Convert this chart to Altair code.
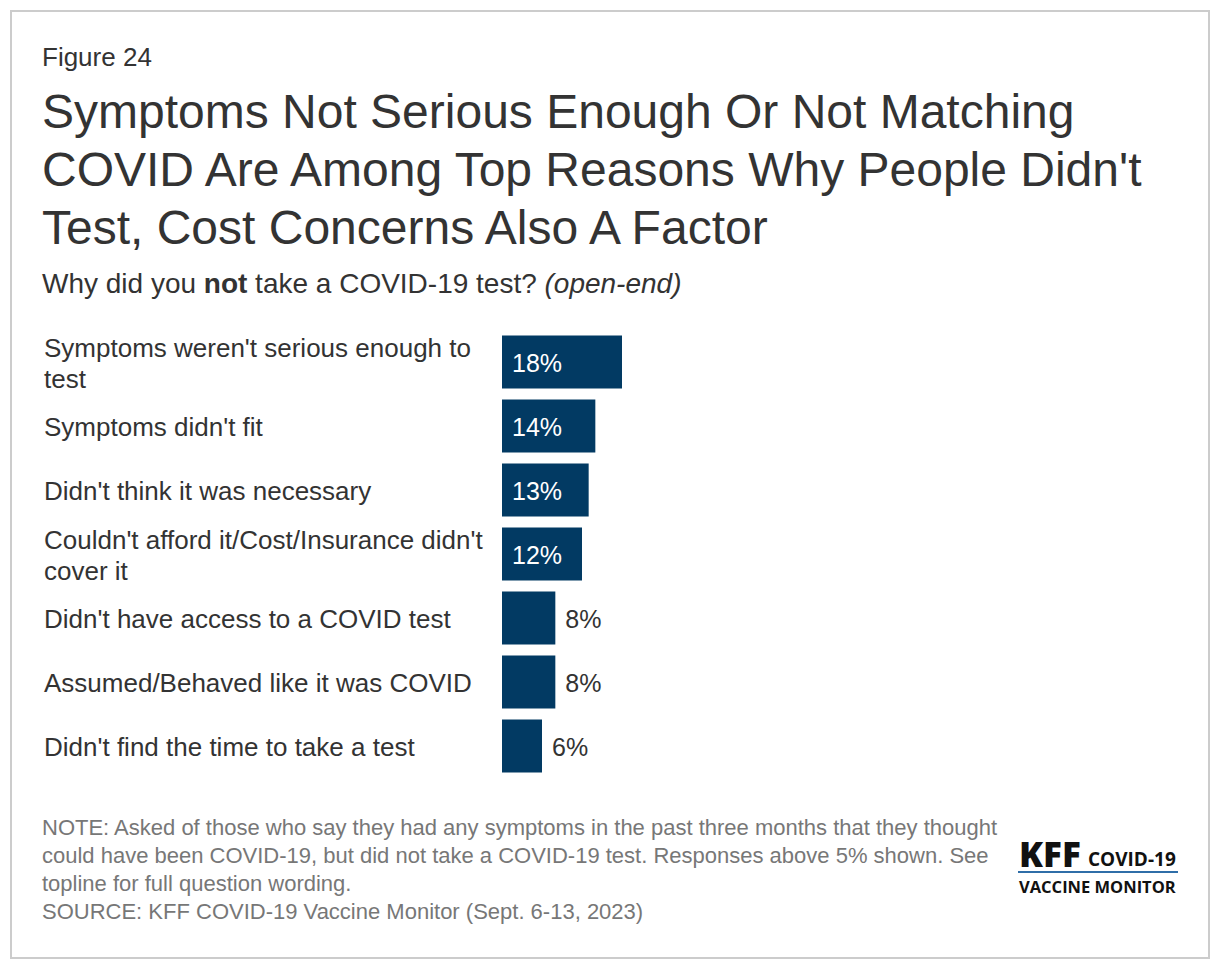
import altair as alt
import pandas as pd

categories = [
    "Symptoms weren't serious enough to\ntest",
    "Symptoms didn't fit",
    "Didn't think it was necessary",
    "Couldn't afford it/Cost/Insurance didn't\ncover it",
    "Didn't have access to a COVID test",
    "Assumed/Behaved like it was COVID",
    "Didn't find the time to take a test",
]
values = [18, 14, 13, 12, 8, 8, 6]
value_labels = ["18%", "14%", "13%", "12%", "8%", "8%", "6%"]

figure_label = "Figure 24"
title_lines = [
    "Symptoms Not Serious Enough Or Not Matching",
    "COVID Are Among Top Reasons Why People Didn't",
    "Test, Cost Concerns Also A Factor",
]
subtitle_parts = ["Why did you", "not", "take a COVID-19 test?", "(open-end)"]
note_lines = [
    "NOTE: Asked of those who say they had any symptoms in the past three months that they thought",
    "could have been COVID-19, but did not take a COVID-19 test. Responses above 5% shown. See",
    "topline for full question wording.",
    "SOURCE: KFF COVID-19 Vaccine Monitor (Sept. 6-13, 2023)",
]

FONT = "Liberation Sans"
BAR = "#023a63"
DARK = "#333333"

df = pd.DataFrame({"cat": categories, "val": values, "lab": value_labels})
df["inside"] = df["val"] >= 10
df["twoline"] = df["cat"].str.contains("\n")

W, H = 600, 448

y_enc = alt.Y("cat:N", sort=None, axis=None,
              scale=alt.Scale(paddingInner=0.17, paddingOuter=0.085))
x_scale = alt.Scale(domain=[0, 90])

base = alt.Chart(df)

bars = base.mark_bar(color=BAR).encode(
    y=y_enc,
    x=alt.X("val:Q", scale=x_scale, axis=None),
)

cat_one = base.transform_filter(~alt.datum.twoline).mark_text(
    align="left", baseline="middle", font=FONT, fontSize=26, color=DARK, dy=1.5,
).encode(y=y_enc, x=alt.value(-458), text="cat:N")

cat_two = base.transform_filter(alt.datum.twoline).mark_text(
    align="left", baseline="middle", font=FONT, fontSize=26, color=DARK,
    lineBreak="\n", lineHeight=31, dy=-13.5,
).encode(y=y_enc, x=alt.value(-458), text="cat:N")

inside_labels = base.transform_filter(alt.datum.inside).mark_text(
    align="left", baseline="middle", font=FONT, fontSize=25, color="white", dx=10, dy=1.5,
).encode(y=y_enc, x=alt.datum(0, scale=x_scale), text="lab:N")

outside_labels = base.transform_filter(~alt.datum.inside).mark_text(
    align="left", baseline="middle", font=FONT, fontSize=25, color=DARK, dx=10, dy=1.5,
).encode(y=y_enc, x=alt.X("val:Q", scale=x_scale), text="lab:N")


def txt(s, x, y, size, color=DARK, weight="normal", style="normal", font=FONT, lh=None):
    kw = dict(align="left", baseline="alphabetic", font=font, fontSize=size,
              color=color, fontWeight=weight, fontStyle=style)
    if lh is not None:
        kw.update(lineBreak="\n", lineHeight=lh)
    return alt.Chart(pd.DataFrame({"t": [s]})).mark_text(**kw).encode(
        text="t:N", x=alt.value(x), y=alt.value(y))


layers = [bars, cat_one, cat_two, inside_labels, outside_labels]

layers.append(txt(figure_label, -460, -264, 26))
for i, line in enumerate(title_lines):
    layers.append(txt(line, -460, -202 + 58 * i, 48))

sub_x = [-460, -298.2, -246.9, 42.5]
sub_w = ["normal", "bold", "normal", "normal"]
sub_s = ["normal", "normal", "normal", "italic"]
for p, x, w, s in zip(subtitle_parts, sub_x, sub_w, sub_s):
    layers.append(txt(p, x, -37, 28, weight=w, style=s))

layers.append(txt("\n".join(note_lines), -460, 505, 22, color="#777777", lh=28))

# logo
layers.append(txt("KFF", 517, 537, 35, color="#111111", weight=800, font="Open Sans"))
layers.append(txt("COVID-19", 586, 536, 19, color="#111111", weight="bold", font="Open Sans"))
layers.append(txt("VACCINE MONITOR", 517, 563, 16.5, color="#111111", weight="bold", font="Open Sans"))
layers.append(
    alt.Chart(pd.DataFrame({"a": [0]})).mark_rule(color="#2f6ea8", strokeWidth=2).encode(
        x=alt.value(516), x2=alt.value(676), y=alt.value(542))
)

# border
layers.append(
    alt.Chart(pd.DataFrame({"a": [0]})).mark_rect(fill=None, stroke="#cccccc", strokeWidth=2).encode(
        x=alt.value(-491), x2=alt.value(707), y=alt.value(-319), y2=alt.value(628))
)

chart = alt.layer(*layers).properties(
    width=W, height=H,
    background="white",
    autosize=alt.AutoSizeParams(type="none"),
    padding={"left": 494, "top": 322, "right": 110, "bottom": 182},
).configure_view(strokeWidth=0, stroke=None)

chart.save("out.html", embed_options={"renderer": "svg", "actions": False})
